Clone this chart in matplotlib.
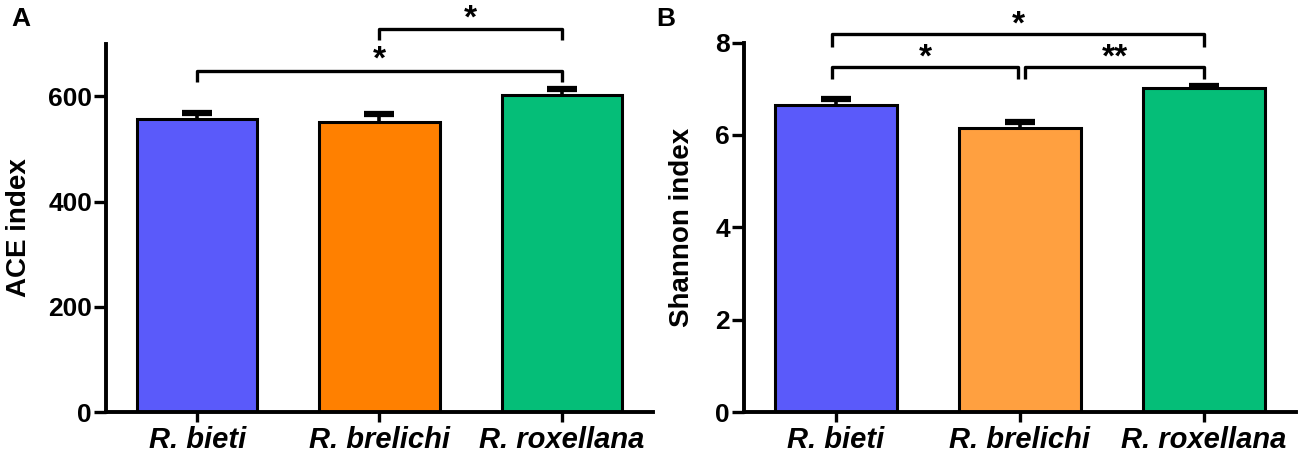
import matplotlib
matplotlib.use("Agg")
import matplotlib.pyplot as plt
import numpy as np

groups = ["R. bieti", "R. brelichi", "R. roxellana"]
ace_mean = [558, 552, 602]
ace_err = [10, 14, 12]
shannon_mean = [6.65, 6.15, 7.01]
shannon_err = [0.12, 0.12, 0.05]

colors_a = ["#5A5AFA", "#FF8000", "#05BE78"]
colors_b = ["#5A5AFA", "#FFA040", "#05BE78"]

# (left group, right group, label, bracket height, tick drop)
ace_sig = [(1, 3, "*", 649, 21), (2, 3, "*", 728, 20)]
shannon_sig = [(0.98, 3, "*", 8.18, 0.27), (0.98, 1.99, "*", 7.47, 0.26), (2.03, 3, "**", 7.47, 0.26)]

plt.rcParams["font.family"] = ["Liberation Sans", "DejaVu Sans"]
plt.rcParams["font.weight"] = "bold"

fig = plt.figure(figsize=(12.99, 4.55), dpi=100)
ax_a = fig.add_axes([0.0816, 0.0945, 0.421, 0.809])
ax_b = fig.add_axes([0.5727, 0.0945, 0.425, 0.812])

x = np.arange(1, 4)


def draw(ax, means, errs, colors, ylim, yticks, ylabel, sig, star_off, label_x):
    means = np.array(means)
    errs = np.array(errs)
    ax.bar(x, means, width=0.66, color=colors, edgecolor="black", linewidth=2.2, zorder=2)
    ax.errorbar(x, means, yerr=[np.zeros(3), errs], fmt="none", ecolor="black",
                elinewidth=2.6, capsize=0, zorder=3)
    ax.plot(x, means + errs, ls="none", marker="_", ms=22, mew=4.5, color="black", zorder=4)
    ax.set_xlim(0.5, 3.5)
    ax.set_ylim(*ylim)
    ax.set_yticks(yticks)
    ax.set_xticks(x)
    ax.set_xticklabels(groups, fontsize=21, fontstyle="italic", fontweight="bold")
    ax.tick_params(axis="y", labelsize=19, width=2.4, length=9, pad=1)
    ax.tick_params(axis="x", width=2.4, length=7, pad=3)
    for s in ["top", "right"]:
        ax.spines[s].set_visible(False)
    for s in ["left", "bottom"]:
        ax.spines[s].set_linewidth(2.8)
    ax.set_ylabel(ylabel, fontsize=20, fontweight="bold")
    ax.yaxis.set_label_coords(label_x, 0.5)
    for x1, x2, lab, h, d in sig:
        ax.plot([x1, x1, x2, x2], [h - d, h, h, h - d], color="black", lw=2.4,
                clip_on=False, solid_capstyle="butt")
        ax.text((x1 + x2) / 2, h + star_off, lab, ha="center", va="center",
                fontsize=24, fontweight="bold")


draw(ax_a, ace_mean, ace_err, colors_a, (0, 700), [0, 200, 400, 600], "ACE index",
     ace_sig, 20, -0.135)
draw(ax_b, shannon_mean, shannon_err, colors_b, (0, 8), [0, 2, 4, 6, 8], "Shannon index",
     shannon_sig, 0.2, -0.088)

fig.text(0.009, 0.958, "A", fontsize=19, fontweight="bold", va="center")
fig.text(0.505, 0.958, "B", fontsize=19, fontweight="bold", va="center")

fig.savefig("out.png", dpi=100)
